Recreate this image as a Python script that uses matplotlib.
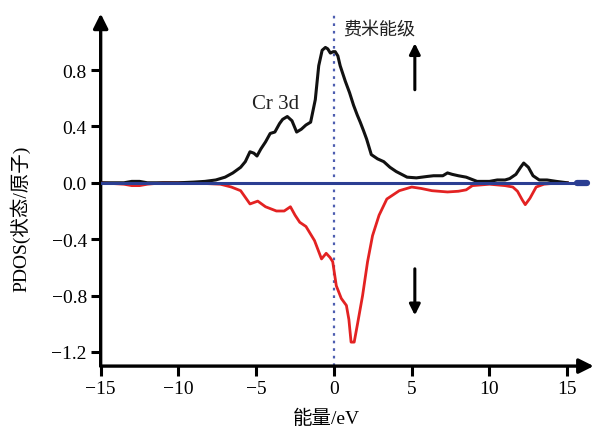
import matplotlib
matplotlib.use('Agg')
import matplotlib.pyplot as plt

plt.rcParams['font.family'] = ['Liberation Serif', 'Noto Sans CJK SC']
plt.rcParams['axes.unicode_minus'] = True

# Spin-up Cr 3d PDOS (black)
x_up = [-15, -13.5, -13, -12.5, -12, -11, -10, -9, -8.3, -7.6, -7.0, -6.5, -6.0, -5.7, -5.4,
        -5.15, -4.95, -4.7, -4.4, -4.1, -3.8, -3.5, -3.3, -3.0, -2.7, -2.4, -2.1, -1.8, -1.5,
        -1.2, -0.98, -0.76, -0.55, -0.4, -0.23, -0.05, 0.08, 0.25, 0.4, 0.73, 1.0, 1.26, 1.5,
        1.69, 1.9, 2.1, 2.4, 2.8, 3.2, 3.6, 4.0, 4.7, 5.3, 6.0, 6.4, 7.0, 7.3, 7.6, 8.0,
        8.5, 9.2, 10.0, 10.5, 11.0, 11.3, 11.7, 12.0, 12.2, 12.5, 12.8, 13.2, 13.7, 14.3, 15.0]
y_up = [0.0, 0.0, 0.01, 0.01, 0.0, 0.0, 0.0, 0.005, 0.01, 0.02, 0.04, 0.07, 0.11, 0.15, 0.22,
        0.21, 0.19, 0.24, 0.29, 0.35, 0.36, 0.42, 0.45, 0.47, 0.44, 0.36, 0.38, 0.41, 0.43,
        0.59, 0.83, 0.94, 0.96, 0.95, 0.92, 0.93, 0.93, 0.90, 0.83, 0.72, 0.64, 0.55, 0.48,
        0.43, 0.37, 0.31, 0.2, 0.17, 0.15, 0.11, 0.08, 0.04, 0.035, 0.045, 0.05, 0.05, 0.07, 0.06, 0.05,
        0.04, 0.01, 0.01, 0.02, 0.02, 0.03, 0.06, 0.11, 0.14, 0.11, 0.05, 0.02, 0.02, 0.01, 0.0]

# Spin-down Cr 3d PDOS (red)
x_dn = [-15, -13.5, -13, -12.5, -12, -11, -10, -9, -8.3, -7.3, -6.6, -6.0, -5.4, -4.9, -4.4,
        -3.7, -3.2, -2.8, -2.5, -2.2, -1.8, -1.25, -0.8, -0.5, -0.25, -0.08, 0.15, 0.47, 0.8,
        0.96, 1.1, 1.3, 1.5, 1.84, 2.16, 2.48, 2.9, 3.4, 4.2, 5.0, 5.6, 6.3, 7.3, 8.0, 8.5,
        8.9, 10.0, 11.0, 11.5, 11.8, 12.1, 12.3, 12.6, 13.0, 13.5, 14.0, 15.0]
y_dn = [0.0, -0.01, -0.02, -0.02, -0.01, 0.0, 0.0, 0.0, -0.005, -0.01, -0.03, -0.056, -0.15,
        -0.13, -0.17, -0.2, -0.2, -0.17, -0.23, -0.28, -0.31, -0.41, -0.54, -0.5, -0.53, -0.56,
        -0.73, -0.82, -0.87, -0.97, -1.13, -1.13, -1.01, -0.8, -0.56, -0.375, -0.23, -0.115,
        -0.056, -0.03, -0.04, -0.056, -0.065, -0.06, -0.05, -0.02, -0.01, -0.02, -0.03, -0.06,
        -0.12, -0.155, -0.11, -0.03, -0.01, -0.005, 0.0]

x_ticks = [-15, -10, -5, 0, 5, 10, 15]
y_ticks = [-1.2, -0.8, -0.4, 0.0, 0.4, 0.8]

fig = plt.figure(figsize=(5.95, 4.27), dpi=100)
ax = fig.add_axes([0.1692, 0.1403, 0.8286, 0.8255])
xmin, xmax = -15, 16.7
ymin, ymax = -1.30, 1.20
ax.set_xlim(xmin, xmax)
ax.set_ylim(ymin, ymax)

for s in ax.spines.values():
    s.set_visible(False)

# axes with arrow heads
ax.annotate('', xy=(xmin, ymax), xytext=(xmin, ymin),
            arrowprops=dict(arrowstyle='-|>', lw=2.4, color='black', mutation_scale=22,
                            shrinkA=0, shrinkB=0), annotation_clip=False)
ax.annotate('', xy=(xmax, ymin), xytext=(xmin, ymin),
            arrowprops=dict(arrowstyle='-|>', lw=2.4, color='black', mutation_scale=22,
                            shrinkA=0, shrinkB=0), annotation_clip=False)

ax.plot(x_dn, y_dn, color='#e32222', lw=2.0, zorder=3)
ax.plot(x_up, y_up, color='#111111', lw=2.2, zorder=3)
ax.plot([-15, 16.2], [0, 0], color='#2b3e92', lw=2.2, zorder=4)
ax.plot([15.6, 16.3], [0, 0], color='#2b3e92', lw=4.5, zorder=4, solid_capstyle='round')

# Fermi level
ax.plot([0, 0], [ymin, 1.19], color='#4d5db0', lw=1.6, ls=(0, (1.2, 2.2)), zorder=2)
ax.text(2.9, 1.09, '费米能级', fontsize=13, ha='center', va='center', color='#222222',
        family=['Noto Sans CJK SC'])
ax.text(-3.75, 0.56, 'Cr 3d', fontsize=15, ha='center', va='center', color='#222222')

ax.annotate('', xy=(5.2, 0.99), xytext=(5.2, 0.66),
            arrowprops=dict(arrowstyle='-|>', lw=2.2, color='black', mutation_scale=16,
                            shrinkA=0, shrinkB=0))
ax.annotate('', xy=(5.2, -0.94), xytext=(5.2, -0.61),
            arrowprops=dict(arrowstyle='-|>', lw=2.2, color='black', mutation_scale=16,
                            shrinkA=0, shrinkB=0))

ax.set_xticks(x_ticks)
ax.set_yticks(y_ticks)
ax.set_xticklabels([f'{v:d}'.replace('-', '\u2212') for v in x_ticks])
ax.set_yticklabels([f'{v:.1f}'.replace('-', '\u2212') for v in y_ticks])
ax.tick_params(direction='out', length=7, width=2.2, labelsize=14, colors='black', pad=3)

ax.set_xlabel('能量/eV', fontsize=14)
ax.set_ylabel('PDOS(状态/原子)', fontsize=14)
ax.xaxis.set_label_coords(0.457, -0.122)
ax.yaxis.set_label_coords(-0.142, 0.42)

fig.savefig('out.png', dpi=100)
